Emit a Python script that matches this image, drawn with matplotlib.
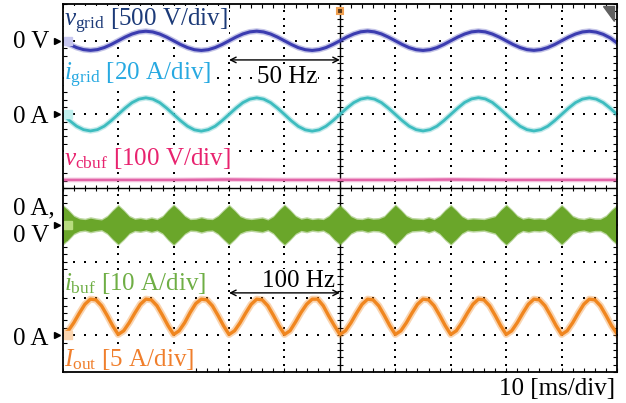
import numpy as np
import matplotlib
matplotlib.use('Agg')
import matplotlib.pyplot as plt
from matplotlib.patches import Polygon

plt.rcParams['font.family'] = ['Liberation Serif', 'DejaVu Serif']
plt.rcParams['mathtext.fontset'] = 'custom'
plt.rcParams['mathtext.rm'] = 'Liberation Serif'
plt.rcParams['mathtext.it'] = 'Liberation Serif:italic'

# scope settings: 10 ms/div, 10 x 10 divisions
ms_per_div = 10

t_50 = np.linspace(0, 100, 81)
v_grid = [0, -50, -92, -120, -130, -120, -92, -50, 0, 50, 92, 120, 130, 120, 92, 50,
          0, -50, -92, -121, -131, -121, -92, -50, 0, 50, 93, 121, 131, 120, 92, 50,
          0, -50, -93, -121, -131, -120, -92, -49, 0, 51, 93, 122, 132, 121, 93, 50,
          0, -50, -93, -121, -131, -121, -93, -50, 0, 50, 92, 121, 131, 121, 92, 50,
          0, -50, -92, -120, -130, -120, -92, -50, 0, 50, 92, 120, 130, 118, 88, 40,
          -30]
i_grid = [0, -3.4, -6.4, -8.3, -9.0, -8.3, -6.4, -3.4, 0, 3.4, 6.4, 8.3, 9.0, 8.3, 6.4, 3.4,
          0, -3.4, -6.4, -8.4, -9.1, -8.3, -6.4, -3.4, 0, 3.4, 6.4, 8.3, 9.0, 8.3, 6.4, 3.4,
          0, -3.5, -6.5, -8.4, -9.1, -8.4, -6.4, -3.4, 0, 3.4, 6.4, 8.3, 9.0, 8.3, 6.4, 3.4,
          0, -3.4, -6.4, -8.3, -9.0, -8.3, -6.4, -3.4, 0, 3.4, 6.5, 8.4, 9.1, 8.4, 6.5, 3.4,
          0, -3.4, -6.4, -8.3, -9.0, -8.3, -6.4, -3.4, 0, 3.4, 6.4, 8.3, 9.0, 8.3, 6.4, 3.4,
          0]

# buffer capacitor voltage, every 10 ms
t_cbuf = np.linspace(0, 100, 11)
v_cbuf = [397, 397, 397, 398, 397, 397, 397, 398, 397, 397, 397]

# 100 Hz traces, sampled every 1 ms
t_100 = np.linspace(0, 100, 101)
i_buf_env = [5.6, 4.3, 2.7, 2.0, 1.8, 2.2, 1.9, 1.7, 2.6, 4.2,
             5.6, 4.2, 2.6, 1.9, 2.1, 1.8, 2.2, 1.8, 2.6, 4.3,
             5.7, 4.3, 2.7, 1.8, 1.9, 2.3, 1.9, 1.8, 2.7, 4.2,
             5.6, 4.2, 2.6, 2.0, 1.8, 2.0, 2.2, 1.7, 2.6, 4.3,
             5.7, 4.3, 2.7, 1.9, 2.2, 1.8, 2.0, 1.8, 2.7, 4.3,
             5.6, 4.2, 2.6, 1.9, 1.8, 2.2, 1.9, 2.0, 2.6, 4.2,
             5.7, 4.3, 2.7, 2.0, 1.9, 1.8, 2.3, 1.8, 2.7, 4.3,
             5.6, 4.2, 2.6, 1.8, 2.0, 1.9, 1.8, 2.2, 2.6, 4.3,
             5.7, 4.3, 2.7, 1.9, 2.2, 1.9, 2.0, 1.8, 2.7, 4.2,
             5.6, 4.2, 2.6, 2.0, 1.8, 2.2, 1.9, 1.9, 2.7, 4.3,
             5.6]
i_out = [0.1, 0.6, 1.7, 3.0, 4.2, 4.9, 4.8, 4.0, 2.7, 1.3,
         0.1, 0.6, 1.7, 3.0, 4.2, 4.9, 4.8, 4.0, 2.7, 1.3,
         0.1, 0.6, 1.7, 3.1, 4.3, 4.9, 4.8, 4.0, 2.7, 1.3,
         0.1, 0.6, 1.7, 3.0, 4.2, 4.9, 4.8, 4.0, 2.7, 1.3,
         0.1, 0.6, 1.8, 3.1, 4.2, 4.9, 4.9, 4.0, 2.6, 1.3,
         0.1, 0.6, 1.7, 3.0, 4.2, 4.9, 4.8, 4.0, 2.7, 1.3,
         0.1, 0.6, 1.7, 3.0, 4.2, 4.9, 4.8, 4.0, 2.7, 1.3,
         0.1, 0.6, 1.7, 3.0, 4.2, 4.9, 4.8, 4.0, 2.7, 1.3,
         0.1, 0.6, 1.7, 3.0, 4.2, 4.9, 4.8, 4.0, 2.7, 1.3,
         0.1, 0.6, 1.7, 3.0, 4.2, 4.9, 4.8, 4.0, 2.7, 1.3,
         0.2]

# volts/amps per division and zero positions (in divisions from the bottom)
scale = {'vgrid': 500, 'igrid': 20, 'vcbuf': 100, 'ibuf': 10, 'iout': 5}
zero = {'vgrid': 9, 'igrid': 7, 'vcbuf': 1.25, 'ibuf': 4, 'iout': 1}

fig = plt.figure(figsize=(6.26, 4.03), dpi=100)
ax = fig.add_axes([0.1002, 0.0769, 0.8855, 0.9132])
ax.set_xlim(0, 100)
ax.set_ylim(0, 10)

# dotted graticule
for gx in range(10, 100, 10):
    if gx != 50:
        ys = np.arange(0, 10.01, 0.2)
        ax.scatter(np.full_like(ys, gx), ys, s=1.2, marker='s', color='k', linewidths=0, zorder=1)
for gy in range(1, 10):
    if gy != 5:
        xs = np.arange(0, 100.01, 2)
        ax.scatter(xs, np.full_like(xs, gy, dtype=float), s=1.2, marker='s', color='k', linewidths=0, zorder=1)

# centre lines with small ticks
ax.axvline(50, color='k', lw=1.0, zorder=2)
ax.axhline(5, color='k', lw=1.0, zorder=2)
ax.vlines(np.arange(0, 100.01, 2), 5 - 0.09, 5 + 0.09, color='k', lw=0.8, zorder=2)
ax.hlines(np.arange(0, 10.01, 0.2), 50 - 0.6, 50 + 0.6, color='k', lw=0.8, zorder=2)

ax.set_xticks(np.arange(0, 100.01, 2))
ax.set_yticks(np.arange(0, 10.01, 0.2))
ax.tick_params(direction='in', length=3, width=0.8, top=True, right=True,
               labelbottom=False, labelleft=False)
for sp in ax.spines.values():
    sp.set_linewidth(1.3)
    sp.set_zorder(8)


def y_of(vals, key):
    return zero[key] + np.asarray(vals) / scale[key]


# traces
c_vgrid, c_igrid, c_vcbuf = '#3b3cb0', '#3dbcbf', '#e264a8'
c_ibuf, c_iout = '#6aa62a', '#f0861f'

ax.plot(t_50, y_of(v_grid, 'vgrid'), color=c_vgrid, lw=4.2, alpha=0.3, zorder=3)
ax.plot(t_50, y_of(v_grid, 'vgrid'), color=c_vgrid, lw=2.2, zorder=4)
ax.plot(t_50, y_of(i_grid, 'igrid'), color=c_igrid, lw=4, alpha=0.3, zorder=3)
ax.plot(t_50, y_of(i_grid, 'igrid'), color=c_igrid, lw=2, zorder=4)
ax.plot(t_cbuf, y_of(v_cbuf, 'vcbuf'), color=c_vcbuf, lw=3.5, alpha=0.3, zorder=3)
ax.plot(t_cbuf, y_of(v_cbuf, 'vcbuf'), color=c_vcbuf, lw=1.8, zorder=4)

env = np.asarray(i_buf_env)
ax.fill_between(t_100, y_of(-env, 'ibuf'), y_of(env, 'ibuf'), color=c_ibuf,
                lw=0, alpha=0.45, zorder=3)
ax.fill_between(t_100, y_of(-(env - 0.4), 'ibuf'), y_of(env - 0.4, 'ibuf'), color=c_ibuf,
                lw=0, zorder=3)
ax.plot(t_100, y_of(i_out, 'iout'), color=c_iout, lw=5, alpha=0.35, zorder=3)
ax.plot(t_100, y_of(i_out, 'iout'), color=c_iout, lw=2.4, zorder=4)

# channel zero markers
for key, mc in [('vgrid', '#c8c8f0'), ('igrid', '#bff0ee'), ('ibuf', '#b8dc80'), ('iout', '#fbd5b0')]:
    ax.plot(1.0, zero[key], marker='s', ms=6, color=mc, zorder=5, clip_on=False)
    ax.plot(-1.0, zero[key], marker='>', ms=5, color='k', zorder=5, clip_on=False)

# trigger marker and corner symbol
ax.plot(50, 9.8, marker='s', ms=5, mfc='#5a3a1a', mec='#f0a050', mew=1.5, zorder=9, clip_on=False)
ax.add_patch(Polygon([[0.975, 0.995], [0.995, 0.995], [0.995, 0.955]], closed=True,
                     transform=ax.transAxes, color='#606060', zorder=9))

fs = 18
box = dict(facecolor='white', edgecolor='none', pad=0.3)
tz = 2.5  # above graticule, below traces
ax.text(0.3, 9.40, r'$v_{\mathrm{grid}}$ [500 V/div]', color='#1c3a78', fontsize=fs, va='baseline', zorder=tz, bbox=box)
ax.text(0.3, 7.93, r'$i_{\mathrm{grid}}$ [20 A/div]', color='#27a9e1', fontsize=fs, va='baseline', zorder=tz, bbox=box)
ax.text(0.3, 5.63, r'$v_{\mathrm{cbuf}}$ [100 V/div]', color='#e8236f', fontsize=fs, va='baseline', zorder=tz, bbox=box)
ax.text(0.3, 2.23, r'$i_{\mathrm{buf}}$ [10 A/div]', color='#6fae45', fontsize=fs, va='baseline', zorder=tz, bbox=box)
ax.text(0.3, 0.16, r'$I_{\mathrm{out}}$ [5 A/div]', color='#f07f2c', fontsize=fs, va='baseline', zorder=tz, bbox=box)

# frequency arrows
ax.annotate('', xy=(30, 8.48), xytext=(50, 8.48),
            arrowprops=dict(arrowstyle='<->', lw=1.0, color='k', shrinkA=0, shrinkB=0), zorder=7)
ax.text(40.5, 7.85, '50 Hz', fontsize=fs, ha='center', va='baseline', zorder=tz, bbox=box)
ax.annotate('', xy=(30, 2.15), xytext=(50, 2.15),
            arrowprops=dict(arrowstyle='<->', lw=1.0, color='k', shrinkA=0, shrinkB=0), zorder=7)
ax.text(42.6, 2.31, '100 Hz', fontsize=fs, ha='center', va='baseline', zorder=tz, bbox=box)

# zero labels on the left
for yy, s in [(8.80, '0 V'), (6.77, '0 A'), (4.27, '0 A,'), (3.53, '0 V'), (0.73, '0 A')]:
    ax.text(-9.0, yy, s, fontsize=fs, ha='left', va='baseline', clip_on=False)

ax.text(99.6, -0.63, '10 [ms/div]', fontsize=fs, ha='right', va='baseline', clip_on=False)

fig.savefig('out.png', dpi=100)
